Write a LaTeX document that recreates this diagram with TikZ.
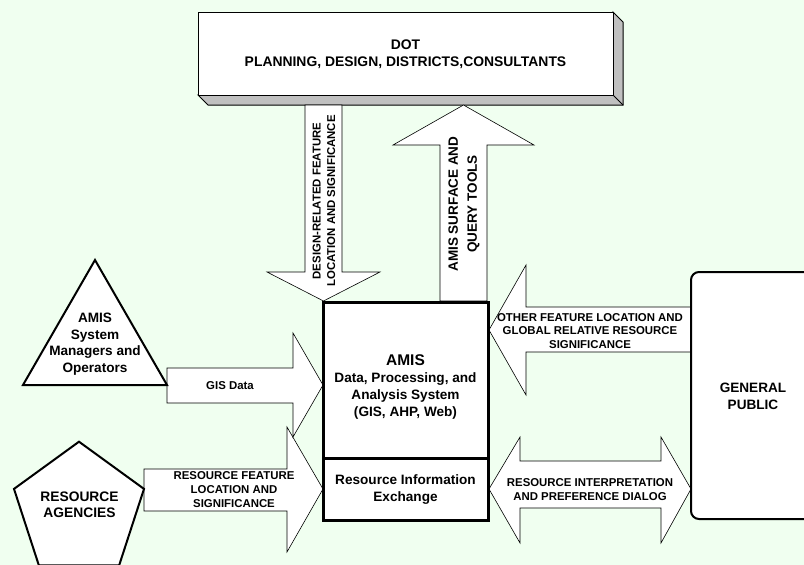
\documentclass[tikz,border=0pt]{standalone}
\usepackage{fontspec}
\setmainfont{Liberation Sans}
\definecolor{bg}{RGB}{240,255,240}
\definecolor{bevel}{RGB}{192,192,192}
\newcommand\fsz[2]{\fontsize{#1}{#2}\selectfont}
\begin{document}
\begin{tikzpicture}[x=1pt,y=-1pt,
  blockarrow/.style={draw=black,fill=white,line width=0.6pt,line join=miter},
  lbl/.style={font=\bfseries\fsz{11.4}{13.8},align=center,inner sep=0pt},
  bigtxt/.style={font=\bfseries\fsz{13.6}{17},align=center,inner sep=0pt},
  shapeline/.style={draw=black,fill=white,line width=2pt,line join=miter}]
\useasboundingbox (0,0) rectangle (804,565);
\clip (0,0) rectangle (804,565);
\fill[bg] (0,0) rectangle (804,565);

% DOT box with its bevel
\draw[fill=bevel,line width=1pt,line join=miter]
  (613,12) -- (623,22) -- (623,105) -- (208,105) -- (198,95) -- (613,95) -- cycle;
\draw[line width=1pt] (613,95) -- (623,105);
\draw[fill=white,line width=1pt] (198,12) rectangle (613,95);
\node[bigtxt,font=\bfseries\fsz{13.9}{17}] (dot) at (405.5,54.5)
  {DOT\\PLANNING, DESIGN, DISTRICTS,CONSULTANTS};

% downward block arrow from DOT
\draw[blockarrow] (305,105) -- (342,105) -- (342,272) -- (380,272) -- (323.5,301)
  -- (267,272) -- (305,272) -- cycle;
\node[lbl,rotate=90,font=\bfseries\fsz{11.4}{14.5}] (design) at (324,201)
  {DESIGN-RELATED FEATURE\\LOCATION AND SIGNIFICANCE};

% upward block arrow to DOT
\draw[blockarrow] (440,301) -- (440,145) -- (393,145) -- (463.5,105) -- (534,145)
  -- (487,145) -- (487,301) -- cycle;
\node[lbl,rotate=90,font=\bfseries\fsz{13.5}{19}] (tools) at (464,204)
  {AMIS SURFACE AND\\QUERY TOOLS};

% left-pointing block arrow from the public
\draw[blockarrow] (691,307) -- (526,307) -- (526,265) -- (489,330) -- (526,395)
  -- (526,352) -- (691,352) -- cycle;
\node[lbl] (other) at (590,331)
  {OTHER FEATURE LOCATION AND\\GLOBAL RELATIVE RESOURCE\\SIGNIFICANCE};

% two-headed block arrow
\draw[blockarrow] (489,489) -- (520,437) -- (520,461) -- (661,461) -- (661,437)
  -- (691,489) -- (661,543) -- (661,508) -- (520,508) -- (520,543) -- cycle;
\node[lbl] (dialog) at (590,489.5)
  {RESOURCE INTERPRETATION\\AND PREFERENCE DIALOG};

% block arrow from the resource agencies
\draw[blockarrow] (144,469) -- (287,469) -- (287,427) -- (323,489) -- (287,552)
  -- (287,511) -- (144,511) -- cycle;
\node[lbl] (feature) at (234,489.5)
  {RESOURCE FEATURE\\LOCATION AND\\SIGNIFICANCE};

% GIS data block arrow
\draw[blockarrow] (167,368) -- (293,368) -- (293,333) -- (323,385) -- (293,437)
  -- (293,403) -- (167,403) -- cycle;
\node[lbl] (gis) at (230,386) {GIS Data};

% system managers triangle
\draw[shapeline] (95,260) -- (167,385) -- (23,385) -- cycle;
\node[bigtxt,font=\bfseries\fsz{13.6}{16.5}] (managers) at (95,344)
  {AMIS\\System\\Managers and\\Operators};

% resource agencies pentagon
\draw[shapeline] (79,441.7) -- (144,488.9) -- (119.15,565.3) -- (38.85,565.3)
  -- (14,488.9) -- cycle;
\node[bigtxt,font=\bfseries\fsz{13.8}{15.6}] (agencies) at (79.5,505)
  {RESOURCE\\AGENCIES};

% general public
\draw[draw=black,fill=white,line width=2pt,rounded corners=8pt]
  (691,272) rectangle (840,519);
\node[bigtxt] (public) at (753,396) {GENERAL\\PUBLIC};

% AMIS core system
\draw[fill=white,line width=3pt,line join=miter] (323,302) rectangle (488,520);
\draw[line width=3pt] (323,458) -- (488,458);
\node[bigtxt] (amishead) at (405.5,360) {\fsz{15.5}{18}AMIS};
\node[bigtxt] (amis) at (405.5,395.5)
  {Data, Processing, and\\Analysis System\\(GIS, AHP, Web)};
\node[bigtxt] (rie) at (405.5,490) {Resource Information\\Exchange};
\end{tikzpicture}
\end{document}
